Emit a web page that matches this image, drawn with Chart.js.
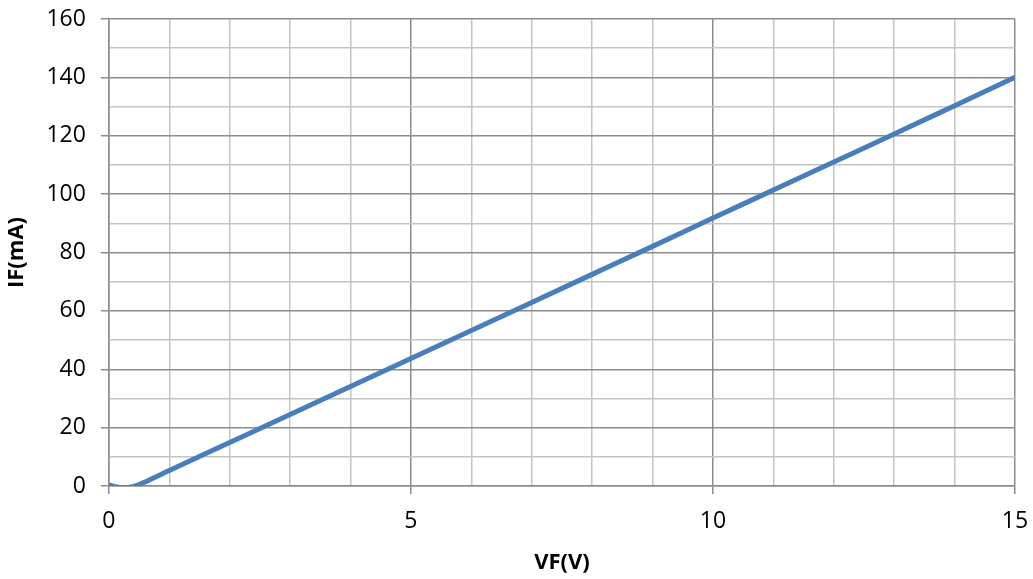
<!DOCTYPE html>
<html lang="en">
<head>
<meta charset="UTF-8">
<title>IF vs VF</title>
<style>
  html, body { margin: 0; padding: 0; background: #fff; }
  .wrap { width: 1033px; height: 579px; position: relative; }
</style>
<script src="https://cdn.jsdelivr.net/npm/chart.js"></script>
</head>
<body>
<div class="wrap"><canvas id="chart"></canvas></div>
<script>
// forward voltage (V) and forward current (mA)
const vf = [0, 0.1, 0.2, 0.3, 0.4, 0.5, 0.6, 1, 2, 3, 4, 5, 6, 7, 8, 9, 10, 11, 12, 13, 14, 15];
const ifMa = [0.4, -0.2, -0.5, -0.5, -0.2, 0.5, 1.4, 5.3, 14.9, 24.5, 34.1, 43.7, 53.3, 62.9, 72.5, 82.1, 91.8, 101.4, 111, 120.6, 130.3, 140];

const points = vf.map((v, i) => ({ x: v, y: ifMa[i] }));

const majorGrid = '#8c8c8c';
const minorGrid = '#c4c4c4';
const tickFont = { family: 'Open Sans', size: 23 };
const titleFont = { family: 'Open Sans', size: 22, weight: 'bold' };

new Chart(document.getElementById('chart'), {
  type: 'line',
  data: {
    datasets: [{
      data: points,
      borderColor: '#4a7ebb',
      borderWidth: 5,
      pointRadius: 0,
      cubicInterpolationMode: 'monotone',
      fill: false
    }]
  },
  options: {
    responsive: true,
    maintainAspectRatio: false,
    animation: false,
    layout: { padding: { top: 19, right: 18, left: -2, bottom: 3 } },
    plugins: { legend: { display: false }, tooltip: { enabled: false } },
    scales: {
      x: {
        type: 'linear',
        min: 0,
        max: 15,
        // let the layout padding alone decide the plot edges
        afterFit: s => { s.paddingLeft = 0; s.paddingRight = 0; },
        ticks: {
          stepSize: 1,
          autoSkip: false,
          maxRotation: 0,
          padding: 14,
          color: '#000',
          font: tickFont,
          callback: v => v % 5 === 0 ? v : ''
        },
        grid: {
          color: c => c.tick && c.tick.value % 5 === 0 ? majorGrid : minorGrid,
          tickColor: c => c.tick && c.tick.value % 5 === 0 ? majorGrid : 'rgba(0,0,0,0)',
          tickLength: 8,
          lineWidth: 1.5
        },
        border: { color: majorGrid, width: 1.5 },
        title: {
          display: true,
          text: 'VF(V)',
          color: '#000',
          font: titleFont,
          padding: { top: 0, bottom: 0 }
        }
      },
      y: {
        min: 0,
        max: 160,
        afterFit: s => { s.paddingTop = 0; s.paddingBottom = 0; },
        ticks: {
          stepSize: 10,
          autoSkip: false,
          padding: 15,
          color: '#000',
          font: tickFont,
          callback: v => v % 20 === 0 ? v : ''
        },
        grid: {
          color: c => c.tick && c.tick.value % 20 === 0 ? majorGrid : minorGrid,
          tickColor: c => c.tick && c.tick.value % 20 === 0 ? majorGrid : 'rgba(0,0,0,0)',
          tickLength: 8,
          lineWidth: 1.5
        },
        border: { color: majorGrid, width: 1.5 },
        title: {
          display: true,
          text: 'IF(mA)',
          color: '#000',
          font: titleFont,
          padding: { top: 6, bottom: 1 }
        }
      }
    }
  }
});
</script>
</body>
</html>
